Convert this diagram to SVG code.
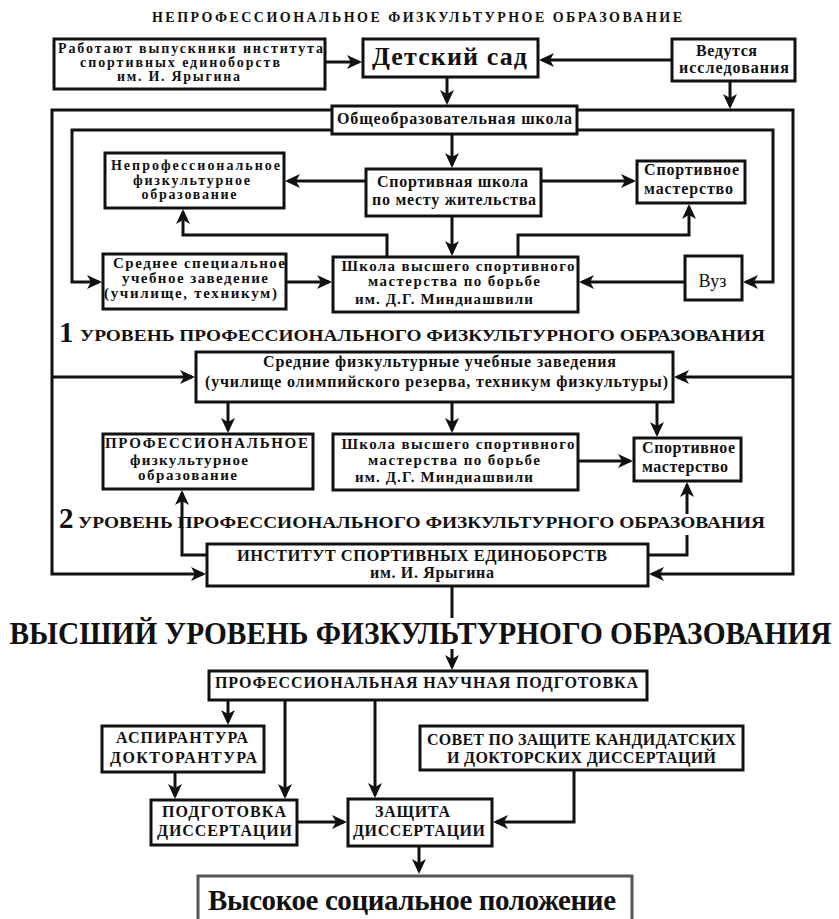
<svg xmlns="http://www.w3.org/2000/svg" width="839" height="919" viewBox="0 0 839 919" font-family="'Liberation Serif', 'Times New Roman', Tinos, 'DejaVu Serif', serif">
<style>
text{font-family:'Liberation Serif','Times New Roman',Tinos,'DejaVu Serif',serif;font-weight:700;fill:#111;text-anchor:middle}
.b{fill:#fff;stroke:#111;stroke-width:3}
.t{font-size:15px}
.u{font-size:16px}
.s{font-size:14px}
.c path{fill:none;stroke:#111;stroke-width:3}
.a{marker-end:url(#ah)}
.lv{font-size:17.5px;text-anchor:start}
.num{font-size:29px;text-anchor:start}
.n{font-weight:400}
</style>
<defs>
<marker id="ah" markerUnits="userSpaceOnUse" markerWidth="15" markerHeight="14" viewBox="0 0 15 14" refX="12" refY="7" orient="auto">
<path d="M0,0 L15,7 L0,14 L4,7 z" fill="#111"/>
</marker>
</defs>
<rect width="839" height="919" fill="#fff"/>

<g id="labels">
<text x="417" y="22" font-size="14" textLength="530">НЕПРОФЕССИОНАЛЬНОЕ ФИЗКУЛЬТУРНОЕ ОБРАЗОВАНИЕ</text>
<text class="num" x="59" y="342">1</text>
<text class="lv" x="80" y="341" textLength="685" lengthAdjust="spacingAndGlyphs">УРОВЕНЬ ПРОФЕССИОНАЛЬНОГО ФИЗКУЛЬТУРНОГО ОБРАЗОВАНИЯ</text>
<text class="num" x="59" y="528">2</text>
<text class="lv" x="78" y="528" textLength="687" lengthAdjust="spacingAndGlyphs">УРОВЕНЬ ПРОФЕССИОНАЛЬНОГО ФИЗКУЛЬТУРНОГО ОБРАЗОВАНИЯ</text>
<text x="420.5" y="644" font-size="32" textLength="822" lengthAdjust="spacingAndGlyphs">ВЫСШИЙ УРОВЕНЬ ФИЗКУЛЬТУРНОГО ОБРАЗОВАНИЯ</text>
</g>

<g class="c" id="connectors">
<path class="a" d="M325,62 H359"/>
<path class="a" d="M672,60 H542"/>
<path class="a" d="M447,77 V102"/>
<path class="a" d="M730,81 V106"/>
<path class="a" d="M332,110 H52 V574 H203"/>
<path class="a" d="M52,377 H192"/>
<path class="a" d="M577,110 H793 V574 H652"/>
<path class="a" d="M793,377 H677"/>
<path class="a" d="M332,130 H72 V282 H99"/>
<path class="a" d="M577,130 H773 V282 H746"/>
<path class="a" d="M452,134 V165"/>
<path class="a" d="M366,181 H288"/>
<path class="a" d="M541,181 H633"/>
<path class="a" d="M452,216 V253"/>
<path class="a" d="M387,257 V235 H183 V212"/>
<path class="a" d="M518,257 V235 H689 V207"/>
<path class="a" d="M286,282 H329"/>
<path class="a" d="M685,282 H582"/>
<path class="a" d="M228,402 V430"/>
<path class="a" d="M452,402 V430"/>
<path class="a" d="M657,402 V434"/>
<path class="a" d="M578,461 H630"/>
<path class="a" d="M207,555 H182 V493"/>
<path d="M648,555 H687 V535"/>
<path class="a" d="M687,514 V485"/>
<path d="M452,586 V618"/>
<path class="a" d="M452,649 V667"/>
<path class="a" d="M228,700 V722"/>
<path class="a" d="M285,700 V796"/>
<path class="a" d="M375,700 V795"/>
<path class="a" d="M175,772 V796"/>
<path class="a" d="M297,822 H344"/>
<path class="a" d="M574,770 V822 H496"/>
<path class="a" d="M419,846 V871"/>
</g>

<g id="rab"><rect class="b" x="54" y="39" width="271" height="50"/>
<text class="s" x="190.5" y="53" textLength="265">Работают выпускники института</text>
<text class="s" x="180" y="67" textLength="200">спортивных единоборств</text>
<text class="s" x="178.5" y="81" textLength="123">им. И. Ярыгина</text></g>

<g id="detsad"><rect class="b" x="363" y="39" width="175" height="38"/>
<text x="449.5" y="65" font-size="26" textLength="155">Детский сад</text></g>

<g id="vedut"><rect class="b" x="672" y="39" width="123" height="42"/>
<text class="u" x="726.5" y="56" textLength="61">Ведутся</text>
<text class="u" x="734" y="73" textLength="110">исследования</text></g>

<g id="obsh"><rect class="b" x="332" y="106" width="245" height="28"/>
<text class="u" x="454.5" y="124" textLength="235">Общеобразовательная школа</text></g>

<g id="neprof"><rect class="b" x="105" y="153" width="179" height="55"/>
<text class="s" x="195.5" y="170" textLength="169">Непрофессиональное</text>
<text class="s" x="191.5" y="185" textLength="117">физкультурное</text>
<text class="s" x="189" y="199" textLength="95">образование</text></g>

<g id="sportshk"><rect class="b" x="366" y="169" width="175" height="47"/>
<text class="u" x="452.5" y="187" textLength="151">Спортивная школа</text>
<text class="u" x="454" y="205" textLength="164">по месту жительства</text></g>

<g id="sportmast1"><rect class="b" x="637" y="161" width="108" height="42"/>
<text class="u" x="691.5" y="175" textLength="95">Спортивное</text>
<text class="u" x="688.5" y="194" textLength="89">мастерство</text></g>

<g id="sredspec"><rect class="b" x="103" y="254" width="183" height="55"/>
<text class="t" x="199" y="268" textLength="172">Среднее специальное</text>
<text class="t" x="195" y="283" textLength="146">учебное заведение</text>
<text class="t" x="190.5" y="298" textLength="173">(училище, техникум)</text></g>

<g id="shvsm1"><rect class="b" x="333" y="257" width="245" height="55"/>
<text class="t" x="458" y="271" textLength="233">Школа высшего спортивного</text>
<text class="t" x="454" y="286" textLength="172">мастерства по борьбе</text>
<text class="t" x="444" y="304" textLength="178">им. Д.Г. Миндиашвили</text></g>

<g id="vuz"><rect class="b" x="685" y="256" width="57" height="44"/>
<text class="n" x="712.5" y="287" font-size="18">Вуз</text></g>

<g id="sredfiz"><rect class="b" x="196" y="352" width="477" height="50"/>
<text class="u" x="439.5" y="367" textLength="353">Средние физкультурные учебные заведения</text>
<text class="u" x="436.5" y="387" textLength="463">(училище олимпийского резерва, техникум физкультуры)</text></g>

<g id="prof"><rect class="b" x="103" y="434" width="210" height="55"/>
<text class="t" x="206.5" y="448" textLength="203">ПРОФЕССИОНАЛЬНОЕ</text>
<text class="t" x="189" y="465" textLength="118">физкультурное</text>
<text class="t" x="187.5" y="480" textLength="99">образование</text></g>

<g id="shvsm2"><rect class="b" x="333" y="434" width="245" height="56"/>
<text class="t" x="458" y="449" textLength="233">Школа высшего спортивного</text>
<text class="t" x="454" y="465" textLength="172">мастерства по борьбе</text>
<text class="t" x="444" y="482" textLength="178">им. Д.Г. Миндиашвили</text></g>

<g id="sportmast2"><rect class="b" x="634" y="438" width="107" height="43"/>
<text class="u" x="688.5" y="453" textLength="93">Спортивное</text>
<text class="u" x="685" y="472" textLength="86">мастерство</text></g>

<g id="institut"><rect class="b" x="207" y="544" width="441" height="42"/>
<text x="422" y="561" font-size="16.5" textLength="370">ИНСТИТУТ СПОРТИВНЫХ ЕДИНОБОРСТВ</text>
<text class="u" x="432" y="578" textLength="124">им. И. Ярыгина</text></g>

<g id="pnp"><rect class="b" x="209" y="671" width="438" height="29"/>
<text class="u" x="426.5" y="688" textLength="423">ПРОФЕССИОНАЛЬНАЯ НАУЧНАЯ ПОДГОТОВКА</text></g>

<g id="asp"><rect class="b" x="102" y="726" width="162" height="46"/>
<text class="u" x="182" y="743" textLength="132">АСПИРАНТУРА</text>
<text class="u" x="183.5" y="763" textLength="147">ДОКТОРАНТУРА</text></g>

<g id="podg"><rect class="b" x="151" y="800" width="146" height="45"/>
<text class="u" x="224" y="817" textLength="124">ПОДГОТОВКА</text>
<text class="u" x="224.5" y="836" textLength="135">ДИССЕРТАЦИИ</text></g>

<g id="zash"><rect class="b" x="348" y="799" width="144" height="47"/>
<text class="u" x="412.5" y="817" textLength="75">ЗАЩИТА</text>
<text class="u" x="419" y="836" textLength="132">ДИССЕРТАЦИИ</text></g>

<g id="sovet"><rect class="b" x="420" y="726" width="323" height="44"/>
<text class="u" x="581.5" y="745" textLength="309">СОВЕТ ПО ЗАЩИТЕ КАНДИДАТСКИХ</text>
<text class="u" x="581.5" y="763" textLength="269">И ДОКТОРСКИХ ДИССЕРТАЦИЙ</text></g>

<g id="vysokoe"><rect x="198" y="876" width="434" height="50" fill="#fff" stroke="#555" stroke-width="3"/>
<text x="412" y="910" font-size="29" textLength="408">Высокое социальное положение</text></g>
</svg>
